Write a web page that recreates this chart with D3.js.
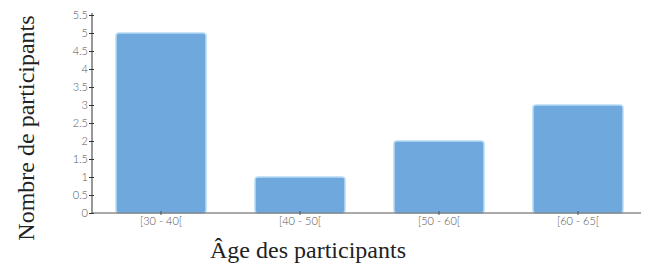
<!DOCTYPE html>
<html>
<head>
<meta charset="utf-8">
<script src="https://cdn.jsdelivr.net/npm/d3@7"></script>
<style>
  body { margin: 0; background: #fff; }
  .tick text { font-family: Lato, sans-serif; font-weight: 300; fill: #555; }
</style>
</head>
<body>
<svg width="645" height="266"></svg>
<script>
const categories = ["[30 - 40[", "[40 - 50[", "[50 - 60[", "[60 - 65["];
const counts = [5, 1, 2, 3];
const yTicks = [0, 0.5, 1, 1.5, 2, 2.5, 3, 3.5, 4, 4.5, 5, 5.5];

const BAR_COLOR = "#6fa8dc";
const BAR_EDGE = "#b8daf5";

let svg = d3.select("svg");
const margin = { left: 92, right: 4, top: 15, bottom: 53 };
const width = 645, height = 266;

// band range runs a bit past the drawn axis line
let x = d3.scaleBand()
  .domain(categories)
  .range([margin.left, 647])
  .paddingInner(0.3525)
  .paddingOuter(0.1727);

let y = d3.scaleLinear()
  .domain([0, 5.5])
  .range([height - margin.bottom, margin.top]);

// bars
svg.append("g")
  .selectAll("rect")
  .data(counts)
  .join("rect")
  .attr("x", (d, i) => x(categories[i]))
  .attr("y", (d) => y(d))
  .attr("width", x.bandwidth())
  .attr("height", (d) => y(0) - y(d))
  .attr("rx", 3)
  .attr("fill", BAR_COLOR)
  .attr("stroke", BAR_EDGE)
  .attr("stroke-width", 1.5);

// y axis
let yAxis = svg.append("g")
  .attr("transform", `translate(${margin.left},0)`)
  .call(d3.axisLeft(y).tickValues(yTicks).tickSize(3).tickFormat(d3.format("")));
yAxis.selectAll(".tick line").attr("x2", 2).attr("x1", -3).attr("stroke", "#333");
yAxis.select(".domain").attr("d", `M0,${y(0)}V${y(5.5) - 2}`).attr("stroke", "#333");
yAxis.selectAll(".tick text").attr("x", -4).attr("font-size", 11);

// x axis
let xAxis = svg.append("g")
  .attr("transform", `translate(0,${y(0)})`)
  .call(d3.axisBottom(x).tickSize(3));
xAxis.select(".domain").attr("d", `M${margin.left},0H641`).attr("stroke", "#555");
xAxis.selectAll(".tick line").attr("y1", -2).attr("y2", 2).attr("stroke", "#555");
xAxis.selectAll(".tick text").attr("y", 4).attr("font-size", 11);

// axis titles
svg.append("text")
  .attr("x", 308)
  .attr("y", 258)
  .attr("text-anchor", "middle")
  .attr("font-family", "Liberation Serif, serif")
  .attr("font-size", 24)
  .attr("fill", "#222")
  .text("Âge des participants");

svg.append("text")
  .attr("transform", "translate(34,128) rotate(-90)")
  .attr("text-anchor", "middle")
  .attr("font-family", "Liberation Serif, serif")
  .attr("font-size", 24)
  .attr("fill", "#222")
  .text("Nombre de participants");
</script>
</body>
</html>
